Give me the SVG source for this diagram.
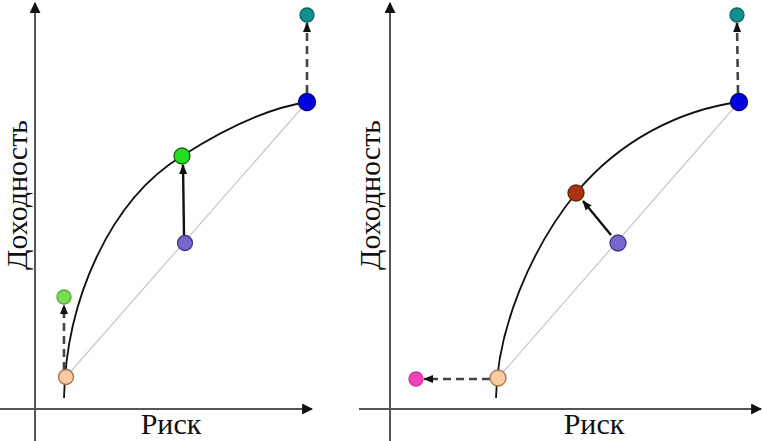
<svg xmlns="http://www.w3.org/2000/svg" width="762" height="441" viewBox="0 0 762 441">
<style>
.axis{stroke:#555;stroke-width:2;fill:none}
.curve{stroke:#111;stroke-width:1.8;fill:none}
.chord{stroke:#c8c8c8;stroke-width:1.2;fill:none}
.solid{stroke:#111;stroke-width:2.4;fill:none}
.dash{stroke:#444;stroke-width:2.6;fill:none;stroke-dasharray:8 5}
.lbl{font-family:"Liberation Serif","Times New Roman",serif;font-size:30px;fill:#111}
.n{stroke-width:1.3}
</style>
<defs>
<marker id="ax" viewBox="0 0 10 10" refX="9" refY="5" markerWidth="11" markerHeight="11" markerUnits="userSpaceOnUse" orient="auto"><path d="M0,0 L10,5 L0,10 Z" fill="#111"/></marker>
<marker id="ah" viewBox="0 0 10 10" refX="9" refY="5" markerWidth="10" markerHeight="10" markerUnits="userSpaceOnUse" orient="auto"><path d="M0,1 L10,5 L0,9 Z" fill="#111"/></marker>
</defs>
<rect width="762" height="441" fill="#fff"/>
<g id="axes">
<line class="axis" x1="35" y1="441" x2="35" y2="3" marker-end="url(#ax)"/>
<line class="axis" x1="0" y1="409" x2="312" y2="409" marker-end="url(#ax)"/>
<line class="axis" x1="390" y1="441" x2="390" y2="3" marker-end="url(#ax)"/>
<line class="axis" x1="359" y1="409" x2="761" y2="409" marker-end="url(#ax)"/>
</g>
<g id="labels">
<text class="lbl" x="171" y="434" text-anchor="middle">Риск</text>
<text class="lbl" transform="translate(27,195) rotate(-90)" text-anchor="middle">Доходность</text>
<text class="lbl" x="594" y="434" text-anchor="middle">Риск</text>
<text class="lbl" transform="translate(380,195) rotate(-90)" text-anchor="middle">Доходность</text>
</g>
<g id="connectors">
<path class="chord" d="M66,377 L307,102"/>
<path class="curve" d="M64,398 C66,300 110,200 182,156 C230,125 270,108 307,102"/>
<path class="chord" d="M498,378 L739,102"/>
<path class="curve" d="M496,398 C497,330 530,250 576,193 C620,140 680,110 739,102"/>
<line class="solid" x1="184" y1="235" x2="183" y2="165" marker-end="url(#ah)"/>
<line class="dash" x1="64" y1="370" x2="64" y2="305" marker-end="url(#ah)"/>
<line class="dash" x1="307" y1="93" x2="307" y2="23" marker-end="url(#ah)"/>
<line class="solid" x1="611" y1="235" x2="583" y2="201" marker-end="url(#ah)"/>
<line class="dash" x1="490" y1="379" x2="424" y2="379" marker-end="url(#ah)"/>
<line class="dash" x1="738" y1="93" x2="737" y2="23" marker-end="url(#ah)"/>
</g>
<g id="n-left-orange"><circle class="n" cx="66" cy="377" r="7.5" fill="#f8cba0" stroke="#a07050"/></g>
<g id="n-left-lightgreen"><circle class="n" cx="64" cy="297" r="7" fill="#77dd55" stroke="#55aa33"/></g>
<g id="n-left-purple"><circle class="n" cx="185" cy="243" r="7.5" fill="#7766cc" stroke="#443388"/></g>
<g id="n-left-green"><circle class="n" cx="182" cy="156" r="8" fill="#22dd22" stroke="#116611"/></g>
<g id="n-left-blue"><circle class="n" cx="307" cy="102" r="8.5" fill="#0000dd" stroke="#000088"/></g>
<g id="n-left-teal"><circle class="n" cx="307" cy="15" r="7" fill="#119090" stroke="#0b6666"/></g>
<g id="n-right-pink"><circle class="n" cx="416" cy="379" r="7" fill="#ee44bb" stroke="#cc3399"/></g>
<g id="n-right-orange"><circle class="n" cx="498" cy="378" r="8" fill="#f8cba0" stroke="#a07050"/></g>
<g id="n-right-purple"><circle class="n" cx="618" cy="243" r="8" fill="#7766cc" stroke="#443388"/></g>
<g id="n-right-brown"><circle class="n" cx="576" cy="193" r="8" fill="#aa3311" stroke="#662200"/></g>
<g id="n-right-blue"><circle class="n" cx="739" cy="102" r="8.5" fill="#0000dd" stroke="#000088"/></g>
<g id="n-right-teal"><circle class="n" cx="737" cy="15" r="7" fill="#119090" stroke="#0b6666"/></g>
</svg>
